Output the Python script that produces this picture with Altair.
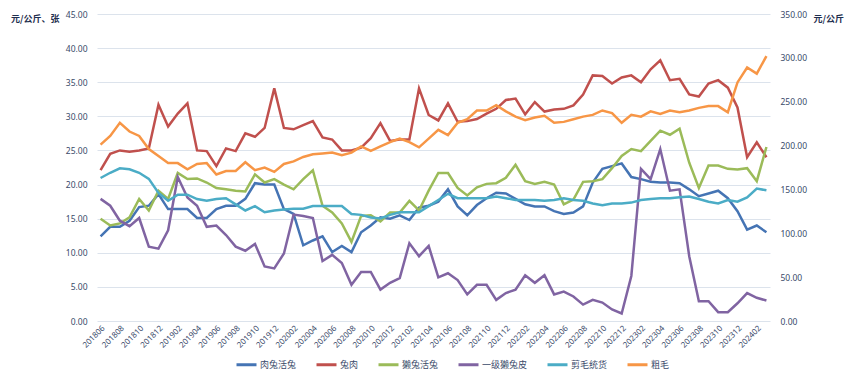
import altair as alt
import pandas as pd

months = [
    "201806", "201807", "201808", "201809", "201810", "201811", "201812",
    "201901", "201902", "201903", "201904", "201905", "201906", "201907", "201908", "201909", "201910", "201911", "201912",
    "202001", "202002", "202003", "202004", "202005", "202006", "202007", "202008", "202009", "202010", "202011", "202012",
    "202101", "202102", "202103", "202104", "202105", "202106", "202107", "202108", "202109", "202110", "202111", "202112",
    "202201", "202202", "202203", "202204", "202205", "202206", "202207", "202208", "202209", "202210", "202211", "202212",
    "202301", "202302", "202303", "202304", "202305", "202306", "202307", "202308", "202309", "202310", "202311", "202312",
    "202401", "202402", "202403",
]
tick_labels = [
    "201806", "201808", "201810", "201812", "201902", "201904", "201906", "201908", "201910", "201912",
    "202002", "202004", "202006", "202008", "202010", "202012", "202102", "202104", "202106", "202108",
    "202110", "202112", "202202", "202204", "202206", "202208", "202210", "202212", "202302", "202304",
    "202306", "202308", "202310", "202312", "202402",
]

series_names = ["肉兔活兔", "兔肉", "獭兔活兔", "一级獭兔皮", "剪毛统货", "粗毛"]
series_colors = ["#4574B4", "#C0504D", "#9BBB59", "#8064A2", "#4BACC6", "#F79646"]

# left axis (元/公斤、张)
rou_tu_huo_tu = [
    12.4, 13.8, 13.8, 14.7, 16.7, 16.9, 18.6, 16.4, 16.4, 16.4,
    15.1, 15.1, 16.4, 16.9, 16.9, 17.9, 20.2, 20.0, 20.0, 16.4,
    15.7, 11.1, 11.8, 12.4, 10.1, 11.0, 10.1, 13.0, 14.0, 15.2,
    15.0, 15.5, 14.8, 16.6, 16.9, 17.5, 19.3, 16.8, 15.5, 17.0,
    18.0, 18.8, 18.7, 17.9, 17.1, 16.8, 16.8, 16.1, 15.7, 15.9,
    16.8, 20.3, 22.3, 22.7, 23.1, 21.1, 20.8, 20.4, 20.3, 20.3,
    20.2, 19.3, 18.3, 18.7, 19.1, 18.0, 16.1, 13.4, 14.0, 13.0,
]
tu_rou = [
    22.1, 24.5, 25.0, 24.8, 25.0, 25.3, 31.7, 28.5, 30.4, 31.9,
    25.0, 24.9, 22.7, 25.3, 24.9, 27.5, 27.0, 28.3, 34.1, 28.3,
    28.1, 28.7, 29.3, 26.9, 26.6, 25.0, 25.0, 25.4, 26.8, 29.0,
    26.4, 26.6, 26.6, 34.1, 30.2, 29.4, 31.9, 29.2, 29.3, 29.6,
    30.4, 31.1, 32.4, 32.6, 30.3, 32.1, 30.7, 31.0, 31.1, 31.6,
    33.2, 36.0, 35.9, 34.8, 35.7, 36.0, 35.0, 36.9, 38.2, 35.3,
    35.5, 33.2, 32.9, 34.8, 35.3, 34.2, 31.3, 24.0, 26.2, 24.0,
]
ta_tu_huo_tu = [
    15.0, 14.0, 14.3, 15.2, 17.9, 16.2, 19.1, 17.9, 21.7, 20.8,
    20.9, 20.3, 19.5, 19.3, 19.1, 19.0, 21.5, 20.3, 20.8, 20.0,
    19.3, 20.8, 22.1, 16.9, 15.9, 14.3, 11.6, 15.4, 15.5, 14.6,
    15.9, 15.9, 17.6, 16.2, 19.1, 21.7, 21.7, 19.5, 18.4, 19.6,
    20.1, 20.2, 21.0, 22.9, 20.5, 20.1, 20.4, 20.0, 17.1, 17.8,
    20.4, 20.5, 20.8, 22.4, 24.2, 25.2, 24.9, 26.4, 27.9, 27.3,
    28.2, 23.2, 19.5, 22.8, 22.8, 22.3, 22.2, 22.4, 20.5, 25.5,
]
yiji_ta_tu_pi = [
    17.9, 16.9, 14.7, 13.9, 15.1, 10.9, 10.6, 13.3, 21.1, 18.1,
    16.9, 13.8, 14.0, 12.6, 10.9, 10.3, 11.3, 8.0, 7.7, 9.9,
    15.6, 15.4, 15.1, 8.8, 9.7, 8.5, 5.3, 7.2, 7.2, 4.6,
    5.6, 6.3, 11.4, 9.5, 11.0, 6.4, 7.0, 6.0, 3.9, 5.3,
    5.3, 3.1, 4.1, 4.6, 6.7, 5.6, 6.7, 3.9, 4.3, 3.6,
    2.4, 3.1, 2.7, 1.7, 1.1, 6.6, 22.3, 20.8, 25.2, 19.1,
    19.3, 9.5, 2.9, 2.9, 1.3, 1.3, 2.6, 4.1, 3.4, 3.0,
]
# right axis (元/公斤)
jian_mao_tong_huo = [
    163, 169, 174, 173, 169, 162, 146, 137, 144, 144,
    139, 137, 139, 140, 133, 126, 131, 124, 126, 127,
    128, 128, 131, 131, 131, 131, 122, 121, 118, 117,
    121, 124, 124, 124, 131, 138, 145, 140, 140, 140,
    140, 142, 140, 138, 138, 138, 137, 138, 140, 138,
    137, 134, 132, 134, 134, 135, 138, 139, 140, 140,
    141, 142, 139, 136, 134, 138, 136, 141, 151, 149,
]
cu_mao = [
    201, 211, 226, 216, 211, 196, 188, 180, 180, 173,
    179, 180, 167, 171, 171, 181, 172, 175, 170, 179,
    182, 187, 190, 191, 192, 189, 192, 199, 194, 199,
    204, 208, 204, 198, 208, 218, 212, 226, 230, 240,
    240, 246, 239, 233, 229, 232, 234, 226, 227, 230,
    233, 235, 240, 237, 226, 235, 233, 239, 236, 240,
    238, 240, 243, 245, 245, 238, 272, 289, 282, 302,
]

left_series = {"肉兔活兔": rou_tu_huo_tu, "兔肉": tu_rou, "獭兔活兔": ta_tu_huo_tu, "一级獭兔皮": yiji_ta_tu_pi}
right_series = {"剪毛统货": jian_mao_tong_huo, "粗毛": cu_mao}


def to_long(d):
    rows = []
    for name, vals in d.items():
        for m, v in zip(months, vals):
            rows.append({"month": m, "series": name, "value": v})
    return pd.DataFrame(rows)


df_left = to_long(left_series)
df_right = to_long(right_series)

label_color = "#3A4A6A"
title_color = "#1F2F4F"
grid_color = "#DCE3EC"
num_font = "Noto Sans"
cjk_font = "Noto Sans CJK SC"

x_enc = alt.X(
    "month:O",
    sort=months,
    scale=alt.Scale(type="point", padding=0.37),
    axis=alt.Axis(
        values=tick_labels, labelAngle=-45, labelFontSize=8, labelFont=num_font,
        labelColor=label_color, title=None, domain=False, ticks=False, grid=False,
        labelPadding=3,
    ),
)

color_enc = alt.Color(
    "series:N",
    scale=alt.Scale(domain=series_names, range=series_colors),
    legend=alt.Legend(
        title=None, orient="none", direction="horizontal", legendX=138, legendY=339,
        symbolType="stroke", symbolSize=400, symbolStrokeWidth=3, symbolOpacity=1,
        labelFont=cjk_font, labelFontSize=9, labelColor=label_color, labelOffset=2,
        columnPadding=13,
    ),
)

left = alt.Chart(df_left).mark_line(strokeWidth=2.5).encode(
    x=x_enc,
    y=alt.Y(
        "value:Q",
        scale=alt.Scale(domain=[0, 45], nice=False),
        axis=alt.Axis(
            orient="left", values=list(range(0, 50, 5)), format=".2f", grid=True,
            gridColor=grid_color, domain=False, ticks=False, labelFontSize=8.5,
            labelFont=num_font, labelColor=label_color, labelPadding=10,
            title="元/公斤、张", titleAngle=0, titleAlign="right", titleBaseline="middle",
            titleX=-38, titleY=4, titleFont=cjk_font, titleFontSize=9,
            titleFontWeight="bold", titleColor=title_color,
        ),
    ),
    color=color_enc,
)

right = alt.Chart(df_right).mark_line(strokeWidth=2.5).encode(
    x=x_enc,
    y=alt.Y(
        "value:Q",
        scale=alt.Scale(domain=[0, 350], nice=False),
        axis=alt.Axis(
            orient="right", values=list(range(0, 351, 50)), format=".2f", grid=False,
            domain=False, ticks=False, labelFontSize=8.5, labelFont=num_font,
            labelColor=label_color, labelPadding=10,
            title="元/公斤", titleAngle=0, titleAlign="left", titleBaseline="middle",
            titleX=43, titleY=4, titleFont=cjk_font, titleFontSize=9,
            titleFontWeight="bold", titleColor=title_color,
        ),
    ),
    color=color_enc,
)

chart = (
    alt.layer(left, right)
    .resolve_scale(y="independent")
    .properties(
        width=673, height=307,
        autosize=alt.AutoSizeParams(type="none"),
        padding={"left": 89, "top": 6, "right": 88, "bottom": 49},
        background="white",
    )
    .configure_view(stroke=None)
)

chart.save("out.html", embed_options={"renderer": "svg", "actions": False})
